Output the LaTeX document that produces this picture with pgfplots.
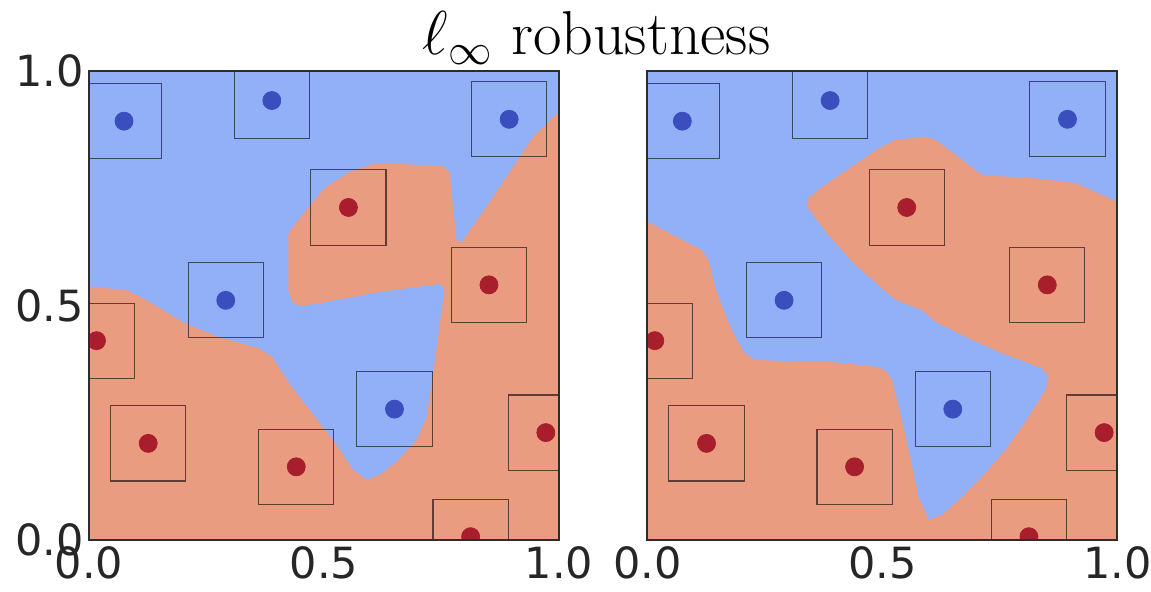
\RequirePackage{fix-cm}
\documentclass[border=0pt]{standalone}
\usepackage{fontspec}
\newfontfamily\dejavu{DejaVu Sans}
\usepackage{pgfplots}
\pgfplotsset{compat=1.18}
\usepackage{pgfplotstable}

\definecolor{bgblue}{RGB}{145,176,248}
\definecolor{bgred}{RGB}{233,156,127}
\definecolor{ptblue}{RGB}{58,78,190}
\definecolor{ptred}{RGB}{168,30,45}
\definecolor{tickgray}{RGB}{38,38,38}
\definecolor{framegray}{RGB}{45,45,45}

\pgfplotstableread{
x y
0.0745 0.893
0.389 0.937
0.894 0.897
0.291 0.511
0.650 0.279
}\bluepts
\pgfplotstableread{
x y
0.552 0.709
0.851 0.544
0.016 0.425
0.126 0.206
0.441 0.156
0.972 0.229
0.812 0.007
}\redpts

\pgfplotsset{
  panel/.style={
    scale only axis, width=235pt, height=234.5pt,
    xmin=0, xmax=1, ymin=0, ymax=1,
    xtick={0,0.5,1}, ytick={0,0.5,1},
    xticklabels={0.0,0.5,1.0}, yticklabels={0.0,0.5,1.0},
    ticklabel style={font=\dejavu\fontsize{21.5}{25}\selectfont, text=tickgray},
    yticklabel style={xshift=1pt},
    major tick length=0pt,
    axis line style={framegray, line width=1.1pt},
    axis on top=true,
    clip marker paths=true,
  },
  boxes/.style={only marks, mark=square, mark size=18.8pt,
    mark options={draw=black, draw opacity=0.6, fill=none, line width=0.55pt, line join=miter}},
  bdots/.style={only marks, mark=*, mark size=4.5pt, color=ptblue},
  rdots/.style={only marks, mark=*, mark size=4.5pt, color=ptred},
}

\begin{document}
\begin{tikzpicture}
\begin{axis}[panel, at={(0pt,0pt)}]
\addplot[fill=bgblue, draw=none] coordinates {(0,0) (1,0) (1,1) (0,1)};
\addplot[fill=bgred, draw=none] coordinates {
(0,0.540) (0.080,0.533) (0.133,0.505) (0.204,0.462) (0.275,0.433) (0.360,0.409)
(0.389,0.391) (0.431,0.327) (0.502,0.235) (0.534,0.192) (0.562,0.149) (0.591,0.128)
(0.619,0.139) (0.655,0.167) (0.697,0.213) (0.719,0.263) (0.729,0.334) (0.740,0.412)
(0.750,0.490) (0.757,0.533) (0.747,0.546) (0.619,0.529) (0.491,0.505) (0.449,0.499)
(0.432,0.508) (0.424,0.533) (0.424,0.654) (0.449,0.687) (0.502,0.751) (0.555,0.785)
(0.612,0.804) (0.754,0.797) (0.768,0.783) (0.775,0.704) (0.782,0.640) (0.793,0.635)
(0.846,0.711) (0.903,0.796) (0.945,0.860) (1,0.913) (1,0) (0,0)};
\addplot[boxes] table {\bluepts};
\addplot[boxes] table {\redpts};
\addplot[bdots] table {\bluepts};
\addplot[rdots] table {\redpts};
\end{axis}
\begin{axis}[panel, at={(279.15pt,0pt)}, yticklabels={}]
\addplot[fill=bgblue, draw=none] coordinates {(0,0) (1,0) (1,1) (0,1)};
\addplot[fill=bgred, draw=none] coordinates {
(0,0.679) (0.055,0.650) (0.116,0.618) (0.130,0.597) (0.138,0.565) (0.148,0.528)
(0.162,0.490) (0.183,0.441) (0.205,0.401) (0.226,0.385) (0.304,0.380) (0.389,0.380)
(0.485,0.370) (0.506,0.362) (0.521,0.341) (0.535,0.284) (0.556,0.192) (0.577,0.092)
(0.599,0.043) (0.627,0.053) (0.670,0.092) (0.719,0.142) (0.762,0.192) (0.812,0.263)
(0.847,0.320) (0.854,0.348) (0.840,0.366) (0.755,0.398) (0.684,0.430) (0.613,0.465)
(0.585,0.490) (0.528,0.512) (0.496,0.540) (0.439,0.590) (0.382,0.654) (0.340,0.711)
(0.343,0.729) (0.368,0.750) (0.425,0.789) (0.496,0.837) (0.528,0.853) (0.592,0.860)
(0.613,0.853) (0.656,0.821) (0.712,0.778) (0.826,0.771) (0.911,0.761) (1,0.721)
(1,0) (0,0)};
\addplot[boxes] table {\bluepts};
\addplot[boxes] table {\redpts};
\addplot[bdots] table {\bluepts};
\addplot[rdots] table {\redpts};
\end{axis}
\node[anchor=base, font=\fontsize{31}{36}\selectfont] at (253.75pt,242.5pt) {$\ell_\infty$ robustness};
\pgfresetboundingbox
\path[use as bounding box] (-44.5pt,-26pt) rectangle (531pt,270pt);
\end{tikzpicture}
\end{document}
